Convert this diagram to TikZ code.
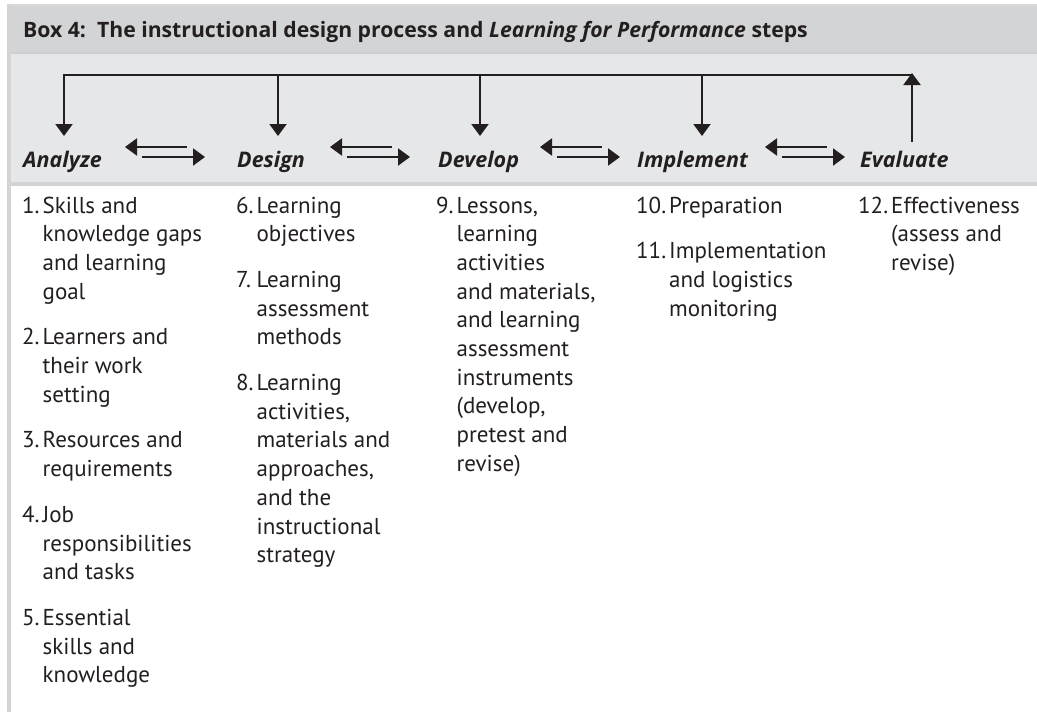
\documentclass[tikz,border=0pt]{standalone}
\usepackage{fontspec}
\setmainfont{PT Sans}
\newfontfamily\headfont{Open Sans}
\usetikzlibrary{arrows.meta}
\definecolor{ink}{HTML}{231F20}
\definecolor{headgray}{HTML}{D3D4D5}
\definecolor{bandgray}{HTML}{E6E7E8}
\definecolor{rulegray}{HTML}{C8C9CA}

\begin{document}
\begin{tikzpicture}[
    x = 1pt,
    y = -1pt,
    >={Triangle[width=17pt,length=12pt]},
    flow/.style = {
      draw = ink,
      line width = 2.2pt
    },
    stage/.style = {
      anchor = base west,
      inner sep = 0pt,
      text = ink,
      font = \headfont\fontsize{21.5}{26}\selectfont\bfseries\itshape
    },
    steps/.style = {
      anchor = base west,
      inner sep = 0pt,
      text = ink,
      font = \fontsize{23}{28.7}\selectfont
    }
  ]
  \useasboundingbox (0,0) rectangle (1037,712);
  \fill[white] (0,0) rectangle (1037,712);
  % box frame
  \fill[bandgray] (7,53) rectangle (1037,182);
  \fill[headgray] (7,5) rectangle (1037,53);
  \fill[rulegray!80] (7,182) rectangle (1037,186);
  \fill[rulegray!90] (7,52) rectangle (1037,54);
  \fill[rulegray!70] (7,4) rectangle (1037,5.5);
  \fill[rulegray!80] (7,4) rectangle (11,712);
  \node[anchor = base west, inner sep = 0pt, text = ink,
    font = \headfont\fontsize{21.2}{26}\selectfont\bfseries] (title) at (23,37)
    {Box 4:\ \ The instructional design process and
     \textit{Learning for Performance} steps};
  % stages
  \node[stage] (analyze)   at (23,167)  {Analyze};
  \node[stage] (design)    at (237,167) {Design};
  \node[stage] (develop)   at (438,167) {Develop};
  \node[stage] (implement) at (637,167) {Implement};
  \node[stage] (evaluate)  at (860,167) {Evaluate};
  % feedback loop
  \coordinate (barL) at (64,75);
  \coordinate (barR) at (912,75);
  \coordinate (rise) at (912,142);
  \foreach \x [count=\i] in {64,278,480,702} {
    \coordinate (drop\i) at (\x,136);
  }
  \draw[flow, ->] (barR) -- (barL) -- (drop1);
  \foreach \i in {2,3,4} {
    \draw[flow, ->] (drop\i |- barL) -- (drop\i);
  }
  \draw[flow, ->] (rise) -- ([yshift = 2pt]barR);
  % back and forth
  \foreach \x [count=\i] in {125,330,540,765} {
    \coordinate (back\i) at (\x,147);
    \coordinate (fwd\i)  at (\x+80,157);
    \draw[flow, ->] ([xshift = 62pt]back\i) -- (back\i);
    \draw[flow, ->] ([xshift = -63pt]fwd\i) -- (fwd\i);
  }
  % steps
  \node[steps] (analyzeSteps) at (22,213) {\begin{tabular}[t]{@{}l@{\hspace{3pt}}l@{}}
    1. & Skills and\\ & knowledge gaps\\ & and learning\\ & goal\\[17pt]
    2. & Learners and\\ & their work\\ & setting\\[17pt]
    3. & Resources and\\ & requirements\\[17pt]
    4. & Job\\ & responsibilities\\ & and tasks\\[17pt]
    5. & Essential\\ & skills and\\ & knowledge
  \end{tabular}};
  \node[steps] (designSteps) at (236,213) {\begin{tabular}[t]{@{}l@{\hspace{3pt}}l@{}}
    6. & Learning\\ & objectives\\[17pt]
    7. & Learning\\ & assessment\\ & methods\\[17pt]
    8. & Learning\\ & activities,\\ & materials and\\ & approaches,\\
       & and the\\ & instructional\\ & strategy
  \end{tabular}};
  \node[steps] (developSteps) at (436,213) {\begin{tabular}[t]{@{}l@{\hspace{3pt}}l@{}}
    9. & Lessons,\\ & learning\\ & activities\\ & and materials,\\
       & and learning\\ & assessment\\ & instruments\\ & (develop,\\
       & pretest and\\ & revise)
  \end{tabular}};
  \node[steps] (implementSteps) at (636,213) {\begin{tabular}[t]{@{}l@{\hspace{3pt}}l@{}}
    10. & Preparation\\[17pt]
    11. & Implementation\\ & and logistics\\ & monitoring
  \end{tabular}};
  \node[steps] (evaluateSteps) at (858,213) {\begin{tabular}[t]{@{}l@{\hspace{3pt}}l@{}}
    12. & Effectiveness\\ & (assess and\\ & revise)
  \end{tabular}};
\end{tikzpicture}
\end{document}
